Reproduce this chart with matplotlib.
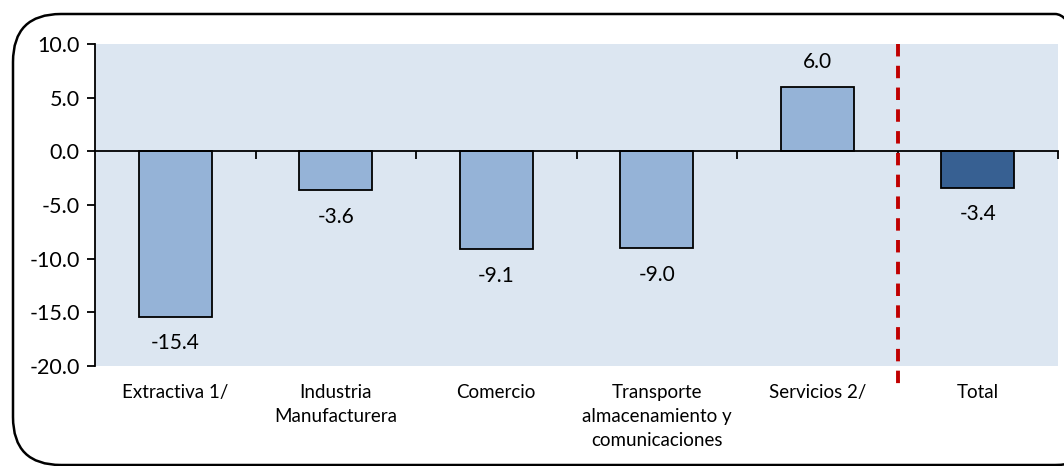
import matplotlib.pyplot as plt
from matplotlib.patches import FancyBboxPatch

categories = ["Extractiva 1/", "Industria\nManufacturera", "Comercio",
              "Transporte\nalmacenamiento y\ncomunicaciones", "Servicios 2/", "Total"]
values = [-15.4, -3.6, -9.1, -9.0, 6.0, -3.4]
yticks = [10.0, 5.0, 0.0, -5.0, -10.0, -15.0, -20.0]

plt.rcParams['font.family'] = ['Lato', 'DejaVu Sans']

fig = plt.figure(figsize=(10.64, 4.66), dpi=100)
W, H = 1064, 466
ax = fig.add_axes([95 / W, 1 - 366 / H, (1058 - 95) / W, (366 - 44) / H])
ax.set_facecolor("#DCE6F1")

colors = ["#95B3D7"] * 5 + ["#376092"]
x = list(range(len(categories)))
ax.bar(x, values, width=0.455, color=colors, edgecolor="black", linewidth=1.3, zorder=3)

for xi, v in zip(x, values):
    if v >= 0:
        ax.annotate(f"{v:.1f}", (xi, v), xytext=(0, 11), textcoords="offset points",
                    ha="center", va="bottom", fontsize=15)
    else:
        ax.annotate(f"{v:.1f}", (xi, v), xytext=(0, -12), textcoords="offset points",
                    ha="center", va="top", fontsize=15)

ax.set_xlim(-0.5, len(categories) - 0.5)
ax.set_ylim(-20, 10)
ax.set_yticks(yticks)
ax.set_yticklabels([f"{t:.1f}" for t in yticks], fontsize=15.5)

# x axis at zero, ticks at category boundaries
ax.spines["bottom"].set_position(("data", 0))
ax.spines["bottom"].set_zorder(4)
for s in ["top", "right"]:
    ax.spines[s].set_visible(False)
ax.spines["left"].set_linewidth(1.3)
ax.spines["bottom"].set_linewidth(1.3)
ax.set_xticks([i + 0.5 for i in x[:-1]] + [len(categories) - 0.5])
ax.set_xticklabels([])
ax.tick_params(axis="x", direction="out", length=6, width=1.3)
ax.tick_params(axis="y", direction="out", length=6, width=1.3, pad=5)

for xi, c in zip(x, categories):
    ax.text(xi, -21.7, c, ha="center", va="top", fontsize=13.5, linespacing=1.5)

ax.plot([4.5, 4.5], [10, -22.2], color="#C00000", linestyle=(0, (3.2, 2.4)),
        linewidth=2.8, clip_on=False, zorder=5)

frame = FancyBboxPatch((13 / W, 1 - 465 / H), 1090 / W, 451 / H,
                       boxstyle="round,pad=0,rounding_size=0.045",
                       transform=fig.transFigure, fill=False,
                       edgecolor="black", linewidth=1.8, mutation_aspect=W / H)
fig.patches.append(frame)

fig.savefig("out.png", dpi=100)
